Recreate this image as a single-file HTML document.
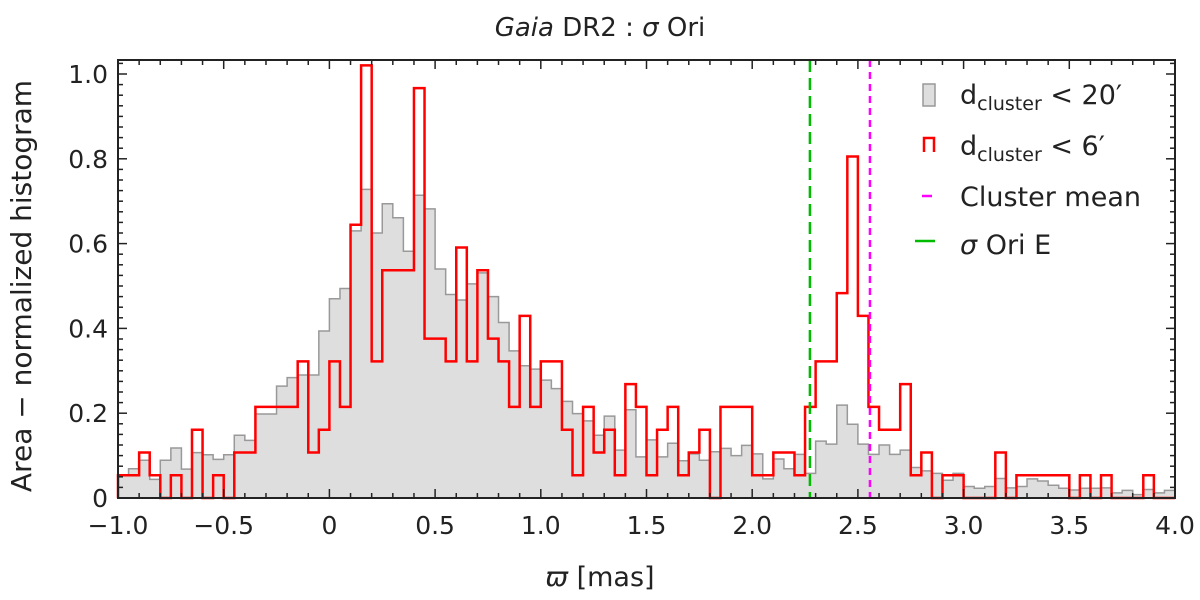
<!DOCTYPE html>
<html><head><meta charset="utf-8"><style>
body{margin:0;background:#fff;}
svg{display:block;font-family:"DejaVu Sans","Liberation Sans",sans-serif;}
</style></head><body>
<svg id="c" width="1200" height="600"></svg>
<script>
const binEdges0 = -1.0, binWidth = 0.05;
const greyValues = [0.054,0.069,0.089,0.044,0.089,0.118,0.068,0.107,0.102,0.091,0.102,0.148,0.136,0.198,0.198,0.264,0.284,0.29,0.29,0.394,0.47,0.494,0.63,0.728,0.625,0.694,0.661,0.582,0.714,0.682,0.54,0.48,0.467,0.505,0.531,0.475,0.414,0.347,0.312,0.304,0.278,0.258,0.228,0.199,0.182,0.148,0.193,0.113,0.208,0.097,0.137,0.097,0.129,0.088,0.104,0.089,0.109,0.117,0.10,0.124,0.104,0.045,0.092,0.069,0.103,0.058,0.134,0.127,0.219,0.174,0.127,0.103,0.125,0.103,0.113,0.072,0.064,0.058,0.042,0.058,0.027,0.023,0.027,0.046,0.024,0.027,0.045,0.04,0.03,0.023,0.019,0.023,0.023,0.024,0.012,0.018,0.008,0.02,0.012,0.018];
const redCounts = [1,1,2,1,0,1,0,3,0,1,0,2,2,4,4,4,4,6,2,3,6,4,12,19,6,10,10,10,18,7,7,6,11,6,10,7,6,4,8,4,6,6,3,1,4,2,3,1,5,4,1,3,4,1,2,3,0,4,4,4,1,1,2,2,1,4,6,6,9,15,8,4,3,3,5,1,2,0,1,1,0,0,0,2,0,1,1,1,1,1,0,1,0,1,0,0,0,1,0,0];
const redUnit = 0.0537;
const xTicks = [-1.0,-0.5,0,0.5,1.0,1.5,2.0,2.5,3.0,3.5,4.0];
const xTickLabels = ["\u22121.0","\u22120.5","0","0.5","1.0","1.5","2.0","2.5","3.0","3.5","4.0"];
const yTicks = [0,0.2,0.4,0.6,0.8,1.0];
const yTickLabels = ["0","0.2","0.4","0.6","0.8","1.0"];
const sigmaOriE = 2.273, clusterMean = 2.557;

const L=118,R=1175,T=60,B=498;
const X=v=>L+(v+1)/5*(R-L);
const Y=v=>B-v*424;
const ns="http://www.w3.org/2000/svg";
const svg=document.getElementById('c');
function mk(t,a,p){const e=document.createElementNS(ns,t);for(const k in a)e.setAttribute(k,a[k]);(p||svg).appendChild(e);return e;}

function stepPath(vals,closed){
  let d=`M${X(binEdges0)},${Y(0)}`;
  vals.forEach((v,i)=>{const x0=X(binEdges0+i*binWidth),x1=X(binEdges0+(i+1)*binWidth);d+=` L${x0},${Y(v)} L${x1},${Y(v)}`;});
  d+=` L${X(binEdges0+vals.length*binWidth)},${Y(0)}`;
  if(closed)d+=' Z';
  return d;
}
const g=mk('path',{d:stepPath(greyValues,true),fill:'#dedede',stroke:'#999',"stroke-width":1.5});


const r=mk('path',{d:stepPath(redCounts.map(c=>c*redUnit),false),fill:'none',stroke:'#f00',"stroke-width":2.5});



const gl=mk('line',{x1:X(sigmaOriE),x2:X(sigmaOriE),y1:T,y2:B,stroke:'#0b0',"stroke-width":2.5,"stroke-dasharray":"12,6"});


const ml=mk('line',{x1:X(clusterMean),x2:X(clusterMean),y1:T,y2:B,stroke:'#f0f',"stroke-width":2.5,"stroke-dasharray":"7,5"});



const box=mk('rect',{x:L,y:T,width:R-L,height:B-T,fill:'none',stroke:'#222',"stroke-width":2});



for(let k=0;k<=50;k++){const v=-1+k*0.1;const major=k%5===0;const len=major?9:5;const x=X(v);
  mk('line',{x1:x,x2:x,y1:B,y2:B-len,stroke:'#222',"stroke-width":1.5});
  mk('line',{x1:x,x2:x,y1:T,y2:T+len,stroke:'#222',"stroke-width":1.5});}
for(let k=0;k<=43;k++){const v=k*0.025;const major=k%8===0;const len=major?9:5;const y=Y(v);if(y<T)continue;
  mk('line',{x1:L,x2:L+len,y1:y,y2:y,stroke:'#222',"stroke-width":1.5});
  mk('line',{x1:R,x2:R-len,y1:y,y2:y,stroke:'#222',"stroke-width":1.5});}
xTicks.forEach((v,i)=>{const t=mk('text',{x:X(v),y:534,"text-anchor":"middle","font-size":25,fill:'#222'});t.textContent=xTickLabels[i];
  
  });
yTicks.forEach((v,i)=>{const t=mk('text',{x:L-10,y:Y(v)+9,"text-anchor":"end","font-size":25,fill:'#222'});t.textContent=yTickLabels[i];
  
  });
</script>
<div style="position:absolute;left:0;top:0;width:1200px;height:600px;pointer-events:none">
<svg width="1200" height="600" style="font-family:'DejaVu Sans','Liberation Sans',sans-serif">
<text x="600" y="36" text-anchor="middle" font-size="26" fill="#222"><tspan font-style="italic">Gaia</tspan> DR2 :  <tspan font-style="italic">σ</tspan> Ori</text>
<text x="600" y="586" text-anchor="middle" font-size="27" fill="#222"><tspan font-style="italic">ϖ</tspan>  [mas]</text>
<text transform="translate(31,286) rotate(-90)" text-anchor="middle" font-size="28" fill="#222">Area − normalized histogram</text>
<g font-size="27" fill="#222">
<rect x="923" y="84" width="12" height="22" fill="#dedede" stroke="#999" stroke-width="1.5"/>
<text x="960" y="104">d<tspan font-size="19" dy="6">cluster</tspan><tspan dy="-6"> &lt; 20′</tspan></text>
<path d="M924,152 V138 H934 V152" fill="none" stroke="#f00" stroke-width="2.5"/>
<text x="960" y="155">d<tspan font-size="19" dy="6">cluster</tspan><tspan dy="-6"> &lt; 6′</tspan></text>
<line x1="922" x2="932" y1="196" y2="196" stroke="#f0f" stroke-width="2.5"/>
<text x="960" y="206">Cluster mean</text>
<line x1="915" x2="935" y1="241" y2="241" stroke="#0b0" stroke-width="2.5"/>
<text x="960" y="254"><tspan font-style="italic">σ</tspan> Ori E</text>
</g>
</svg></div>
</body></html>
